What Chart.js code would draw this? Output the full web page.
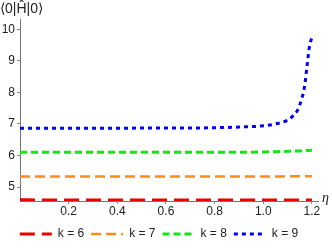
<!DOCTYPE html>
<html>
<head>
<meta charset="utf-8">
<script src="https://cdn.jsdelivr.net/npm/chart.js@4.4.0/dist/chart.umd.min.js"></script>
<style>
  html, body { margin: 0; padding: 0; background: #fff; }
  #wrap { width: 332px; height: 250px; }
</style>
</head>
<body>
<div id="wrap"><canvas id="energy-chart"></canvas></div>
<script>
// eta values
const etaValues = [0, 0.1, 0.2, 0.3, 0.4, 0.5, 0.6, 0.7, 0.8, 0.9, 1.0, 1.05, 1.1, 1.12, 1.14, 1.16, 1.17, 1.18, 1.19, 1.2];

const k6 = [4.6, 4.59, 4.59, 4.59, 4.59, 4.59, 4.59, 4.59, 4.59, 4.59, 4.59, 4.59, 4.59, 4.59, 4.59, 4.59, 4.59, 4.59, 4.59, 4.59];
const k7 = [5.33, 5.33, 5.33, 5.33, 5.33, 5.33, 5.33, 5.33, 5.33, 5.33, 5.33, 5.33, 5.34, 5.34, 5.34, 5.34, 5.34, 5.34, 5.34, 5.34];
const k8 = [6.1, 6.1, 6.1, 6.1, 6.1, 6.1, 6.1, 6.1, 6.1, 6.1, 6.11, 6.12, 6.13, 6.14, 6.14, 6.15, 6.15, 6.16, 6.16, 6.17];
const k9 = [6.86, 6.86, 6.86, 6.86, 6.86, 6.87, 6.87, 6.87, 6.88, 6.9, 6.94, 7.0, 7.12, 7.24, 7.42, 7.85, 8.2, 8.85, 9.45, 9.75];

const xTicks = [0.2, 0.4, 0.6, 0.8, 1.0, 1.2];
const yTicks = [5, 6, 7, 8, 9, 10];

function pts(ys) {
  return etaValues.map((x, i) => ({x: x, y: ys[i]}));
}

const seriesInfo = [
  {label: "k = 6", data: k6, color: "rgb(235, 0, 0)", dash: [15, 7], width: 3},
  {label: "k = 7", data: k7, color: "rgb(255, 140, 20)", dash: [10, 5], width: 2.5},
  {label: "k = 8", data: k8, color: "rgb(20, 230, 20)", dash: [7, 4], width: 3},
  {label: "k = 9", data: k9, color: "rgb(0, 0, 245)", dash: [4, 4], width: 3}
];

const axisLabel = {
  id: 'axisLabel',
  afterDraw(chart) {
    const {ctx} = chart;
    const xs = chart.scales.x;
    ctx.save();
    ctx.fillStyle = '#222';
    ctx.font = 'italic 14px "Liberation Serif"';
    ctx.textBaseline = 'middle';
    ctx.textAlign = 'left';
    ctx.fillText('η', xs.right + 4, xs.top - 3);
    ctx.restore();
  }
};

new Chart("energy-chart", {
  type: 'line',
  data: {
    datasets: seriesInfo.map(s => ({
      label: s.label,
      data: pts(s.data),
      borderColor: s.color,
      backgroundColor: s.color,
      borderWidth: s.width,
      borderDash: s.dash,
      pointRadius: 0,
      fill: false,
      cubicInterpolationMode: 'monotone'
    }))
  },
  options: {
    responsive: true,
    maintainAspectRatio: false,
    animation: false,
    layout: {padding: {left: 0, right: 14, top: 0, bottom: 0}},
    plugins: {
      title: {
        display: true,
        text: '⟨0|Ĥ|0⟩',
        align: 'start',
        color: '#222',
        font: {family: '"Liberation Sans"', size: 14, weight: 'normal'},
        padding: {top: 1, bottom: 2}
      },
      legend: {
        position: 'bottom',
        labels: {
          usePointStyle: true,
          pointStyleWidth: 32,
          boxHeight: 12,
          color: '#222',
          padding: 7,
          font: {family: '"Liberation Sans"', size: 12},
          generateLabels: (chart) => chart.data.datasets.map((d, i) => ({
            text: d.label,
            datasetIndex: i,
            pointStyle: 'line',
            strokeStyle: d.borderColor,
            fillStyle: d.borderColor,
            lineWidth: d.borderWidth,
            lineDash: d.borderDash,
            fontColor: '#222',
            hidden: false
          }))
        }
      },
      tooltip: {enabled: false}
    },
    scales: {
      x: {
        type: 'linear',
        min: 0,
        max: 1.225,
        afterBuildTicks: (s) => { s.ticks = xTicks.map(v => ({value: v})); },
        afterFit: (s) => { s.height = 20; },
        grid: {display: true, drawOnChartArea: false, tickLength: 3, color: '#888'},
        border: {color: '#777', width: 1},
        ticks: {
          color: '#222',
          padding: 0,
          maxRotation: 0,
          font: {family: '"Liberation Sans"', size: 12},
          callback: (v) => Number(v).toFixed(1)
        }
      },
      y: {
        type: 'linear',
        min: 4.557,
        max: 10.3,
        afterBuildTicks: (s) => { s.ticks = yTicks.map(v => ({value: v})); },
        afterFit: (s) => { s.width = 20; },
        grid: {display: true, drawOnChartArea: false, tickLength: 3, color: '#888'},
        border: {color: '#777', width: 1},
        ticks: {
          color: '#222',
          padding: 2,
          font: {family: '"Liberation Sans"', size: 12}
        }
      }
    }
  },
  plugins: [axisLabel]
});
</script>
</body>
</html>
